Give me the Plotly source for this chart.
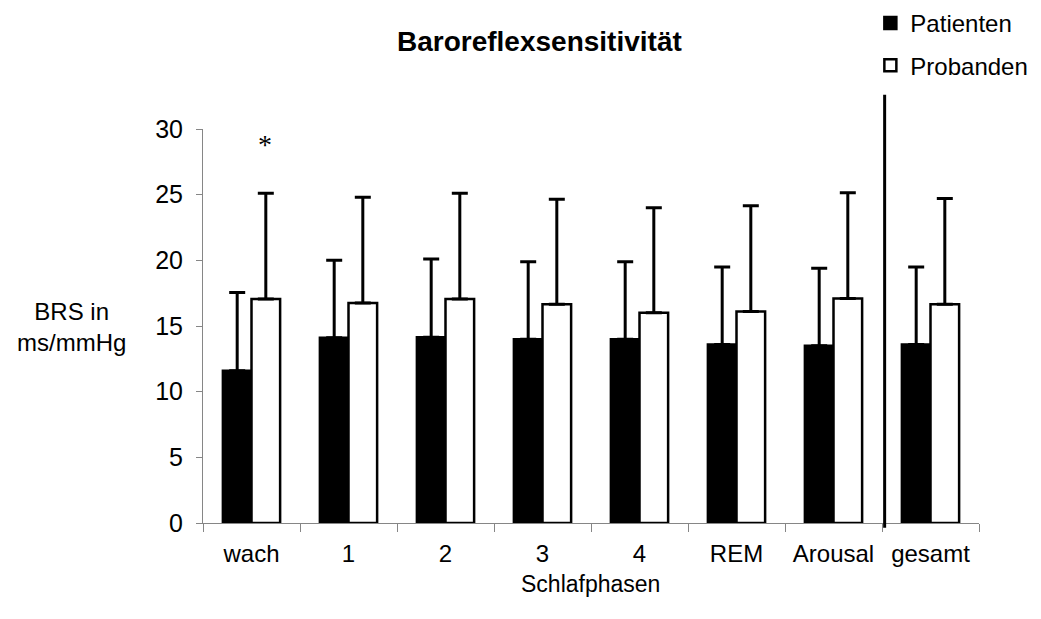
import plotly.graph_objects as go

# Sleep stages (categories on the x axis)
phasen = ["wach", "1", "2", "3", "4", "REM", "Arousal", "gesamt"]

# Mean baroreflex sensitivity (ms/mmHg) and standard deviations
patienten_mw = [11.6, 14.1, 14.15, 14.0, 14.0, 13.6, 13.5, 13.6]
patienten_sd = [5.95, 5.9, 5.95, 5.9, 5.9, 5.9, 5.9, 5.9]
probanden_mw = [17.05, 16.75, 17.05, 16.65, 16.0, 16.1, 17.1, 16.65]
probanden_sd = [8.05, 8.05, 8.05, 8.0, 8.0, 8.05, 8.05, 8.05]

y_ticks = [0, 5, 10, 15, 20, 25, 30]

FONT = "Arial, Liberation Sans, sans-serif"
AXIS_GRAY = "#868686"

fig = go.Figure()

fig.add_trace(go.Bar(
    name="Patienten", x=phasen, y=patienten_mw, legendgroup="a",
    marker=dict(color="black", line=dict(color="black", width=2.5)),
    error_y=dict(type="data", array=patienten_sd, symmetric=False,
                 arrayminus=[0] * len(phasen),
                 color="black", thickness=3, width=8),
))
fig.add_trace(go.Bar(
    name="Probanden", x=phasen, y=probanden_mw, legendgroup="b",
    marker=dict(color="white", line=dict(color="black", width=2.5)),
    error_y=dict(type="data", array=probanden_sd, symmetric=False,
                 arrayminus=[0] * len(phasen),
                 color="black", thickness=3, width=8),
))

# Separator between the single stages and the total
fig.add_shape(type="line", xref="paper", yref="paper",
              x0=0.8784, x1=0.8784, y0=-0.012, y1=1.087,
              line=dict(color="black", width=3))

# Significance marker over the awake group
fig.add_annotation(x="wach", y=28.8, xshift=13, text="*", showarrow=False,
                   font=dict(family="Liberation Serif, serif", size=28, color="black"),
                   yanchor="middle")

# Title
fig.add_annotation(xref="paper", yref="paper", x=(539 - 203) / 776, y=(523.3 - 42) / 394,
                   text="<b>Baroreflexsensitivität</b>", showarrow=False,
                   font=dict(family=FONT, size=28, color="black"),
                   xanchor="center", yanchor="middle")

# Y axis title
fig.add_annotation(xref="paper", yref="paper", x=(71 - 203) / 776, y=(523.3 - 327) / 394,
                   text="BRS in<br>ms/mmHg", showarrow=False, align="center",
                   font=dict(family=FONT, size=24, color="black"),
                   xanchor="center", yanchor="middle")

# X axis title
fig.add_annotation(xref="paper", yref="paper", x=(590 - 203) / 776, y=(523.3 - 584) / 394,
                   text="Schlafphasen", showarrow=False,
                   font=dict(family=FONT, size=23, color="black"),
                   xanchor="center", yanchor="middle")

fig.update_layout(
    width=1041, height=619,
    margin=dict(l=203, r=62, t=129, b=96, autoexpand=False),
    paper_bgcolor="white", plot_bgcolor="white",
    barmode="group", bargap=0.41, bargroupgap=0,
    font=dict(family=FONT, size=24, color="black"),
    showlegend=True,
    legend=dict(x=0.86, y=1.325, xanchor="left", yanchor="top",
                traceorder="grouped", tracegroupgap=8,
                font=dict(family=FONT, size=24, color="black"),
                bgcolor="rgba(0,0,0,0)"),
    xaxis=dict(type="category", showline=True, linecolor=AXIS_GRAY, linewidth=1,
               ticks="outside", tickson="boundaries", ticklen=8, tickcolor=AXIS_GRAY,
               showgrid=False, zeroline=False, ticklabelstandoff=9, automargin=False,
               tickfont=dict(family=FONT, size=24, color="black")),
    yaxis=dict(range=[0, 30], tickvals=y_ticks, showline=True, linecolor=AXIS_GRAY,
               linewidth=1, ticks="outside", ticklen=6, tickcolor=AXIS_GRAY,
               showgrid=False, zeroline=False, ticklabelstandoff=8, automargin=False,
               tickfont=dict(family=FONT, size=25, color="black")),
)

fig.write_html("out.html")
